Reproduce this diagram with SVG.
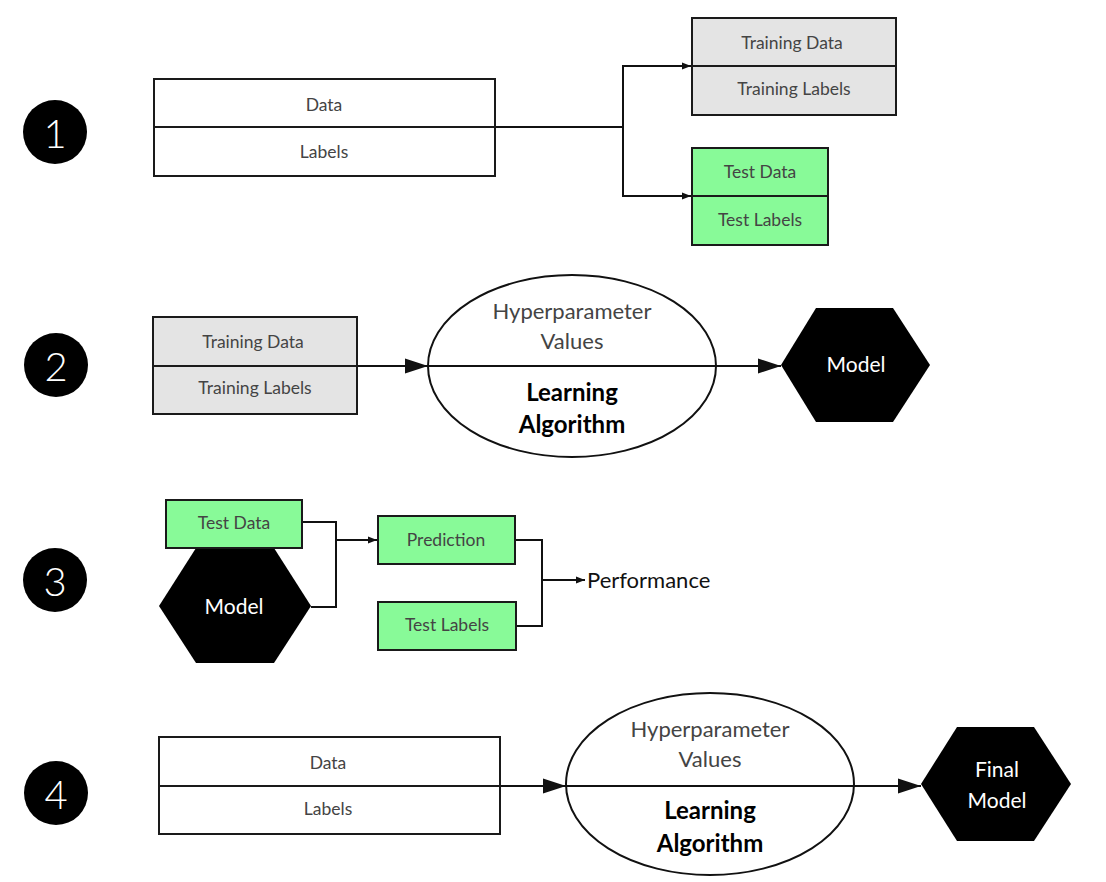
<svg xmlns="http://www.w3.org/2000/svg" width="1106" height="882" viewBox="0 0 1106 882">
<style>
.bx{stroke:#1a1a1a;stroke-width:2}
.w{fill:#ffffff}.g{fill:#e4e4e4}.gr{fill:#88fa98}
.lbl{font-family:Lato,"Liberation Sans",sans-serif;font-size:17.5px;fill:#444;text-anchor:middle;dominant-baseline:central}
.hp{font-family:Lato,"Liberation Sans",sans-serif;font-size:22px;fill:#444;text-anchor:middle;dominant-baseline:central}
.la{font-family:Lato,"Liberation Sans",sans-serif;font-size:24px;font-weight:bold;fill:#000;text-anchor:middle;dominant-baseline:central}
.mdl{font-family:Lato,"Liberation Sans",sans-serif;font-size:21px;fill:#fff;text-anchor:middle;dominant-baseline:central}
.num{font-family:Lato,"Liberation Sans",sans-serif;font-size:40px;font-weight:300;fill:#fff;text-anchor:middle;dominant-baseline:central}
.perf{font-family:Lato,"Liberation Sans",sans-serif;font-size:22px;fill:#111;dominant-baseline:central}
.c{fill:none;stroke:#111;stroke-width:2}
.el{fill:#fff;stroke:#111;stroke-width:2}
</style>
<defs>
<marker id="sa" markerUnits="userSpaceOnUse" markerWidth="10" markerHeight="8" refX="9" refY="4" orient="auto"><path d="M0,0.5 L9,4 L0,7.5 z" fill="#111"/></marker>
<marker id="la" markerUnits="userSpaceOnUse" markerWidth="24" markerHeight="16" refX="23" refY="8" orient="auto"><path d="M0,0.5 L23,8 L0,15.5 z" fill="#111"/></marker>
</defs>
<rect width="1106" height="882" fill="#fff"/>

<g id="step1"><circle cx="55" cy="132" r="32" fill="#000"/><text class="num" x="55" y="133">1</text></g>
<g id="step2"><circle cx="56" cy="365" r="32" fill="#000"/><text class="num" x="56" y="366">2</text></g>
<g id="step3"><circle cx="55" cy="580" r="32" fill="#000"/><text class="num" x="55" y="581">3</text></g>
<g id="step4"><circle cx="56" cy="793" r="32" fill="#000"/><text class="num" x="56" y="794">4</text></g>

<g id="connectors">
<path class="c" d="M495,127 H623 V66 H691" marker-end="url(#sa)"/>
<path class="c" d="M623,127 V196 H691" marker-end="url(#sa)"/>
<path class="c" d="M358,366 H428" marker-end="url(#la)"/>
<path class="c" d="M716,366 H781" marker-end="url(#la)"/>
<path class="c" d="M302,522 H336 V607 H311"/>
<path class="c" d="M336,540 H377" marker-end="url(#sa)"/>
<path class="c" d="M515,540 H542 V626 H516"/>
<path class="c" d="M542,580 H585" marker-end="url(#sa)"/>
<path class="c" d="M500,786 H566" marker-end="url(#la)"/>
<path class="c" d="M854,786 H921" marker-end="url(#la)"/>
</g>

<g id="data1">
<rect class="bx w" x="154" y="79" width="341" height="97"/>
<line class="bx" x1="154" y1="127" x2="495" y2="127"/>
<text class="lbl" x="324" y="104">Data</text>
<text class="lbl" x="324" y="151">Labels</text>
</g>
<g id="train1">
<rect class="bx g" x="692" y="18" width="204" height="97"/>
<line class="bx" x1="692" y1="66" x2="896" y2="66"/>
<text class="lbl" x="792" y="42">Training Data</text>
<text class="lbl" x="794" y="88">Training Labels</text>
</g>
<g id="test1">
<rect class="bx gr" x="692" y="148" width="136" height="97"/>
<line class="bx" x1="692" y1="196" x2="828" y2="196"/>
<text class="lbl" x="760" y="171">Test Data</text>
<text class="lbl" x="760" y="219">Test Labels</text>
</g>

<g id="train2">
<rect class="bx g" x="153" y="317" width="204" height="97"/>
<line class="bx" x1="153" y1="366" x2="357" y2="366"/>
<text class="lbl" x="253" y="341">Training Data</text>
<text class="lbl" x="255" y="387">Training Labels</text>
</g>
<g id="algo2">
<ellipse class="el" cx="572" cy="366" rx="144" ry="91"/>
<line class="c" x1="428" y1="366" x2="716" y2="366"/>
<text class="hp" x="572" y="310">Hyperparameter</text>
<text class="hp" x="572" y="340">Values</text>
<text class="la" x="572" y="391">Learning</text>
<text class="la" x="572" y="423">Algorithm</text>
</g>
<g id="model2">
<polygon points="781,365 816,308 893,308 930,365 893,422 816,422" fill="#000"/>
<text class="mdl" x="856" y="363">Model</text>
</g>

<g id="model3">
<polygon points="159,606 196,548 274,548 311,606 274,663 196,663" fill="#000"/>
<text class="mdl" x="234" y="605">Model</text>
</g>
<g id="testdata3">
<rect class="bx gr" x="166" y="500" width="136" height="48"/>
<text class="lbl" x="234" y="522">Test Data</text>
</g>
<g id="pred3">
<rect class="bx gr" x="378" y="516" width="137" height="48"/>
<text class="lbl" x="446" y="539">Prediction</text>
</g>
<g id="testlabels3">
<rect class="bx gr" x="378" y="602" width="138" height="48"/>
<text class="lbl" x="447" y="624">Test Labels</text>
</g>
<g id="perf3"><text class="perf" x="587" y="579">Performance</text></g>

<g id="data4">
<rect class="bx w" x="159" y="737" width="341" height="97"/>
<line class="bx" x1="159" y1="786" x2="500" y2="786"/>
<text class="lbl" x="328" y="762">Data</text>
<text class="lbl" x="328" y="808">Labels</text>
</g>
<g id="algo4">
<ellipse class="el" cx="710" cy="784" rx="144" ry="91"/>
<line class="c" x1="566" y1="786" x2="854" y2="786"/>
<text class="hp" x="710" y="728">Hyperparameter</text>
<text class="hp" x="710" y="758">Values</text>
<text class="la" x="710" y="809">Learning</text>
<text class="la" x="710" y="842">Algorithm</text>
</g>
<g id="model4">
<polygon points="921,784 957,727 1034,727 1071,784 1034,841 957,841" fill="#000"/>
<text class="mdl" x="997" y="768">Final</text>
<text class="mdl" x="997" y="799">Model</text>
</g>
</svg>
